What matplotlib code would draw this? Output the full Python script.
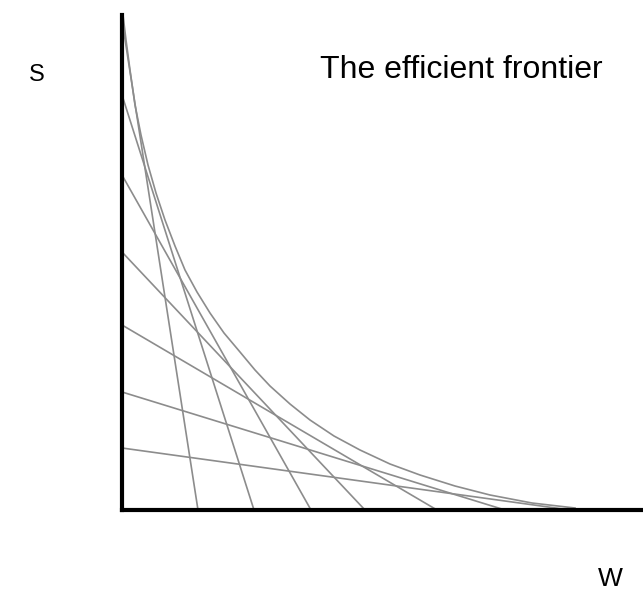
import numpy as np
import matplotlib.pyplot as plt

# intercepts of the straight lines (x on the W axis, y on the S axis)
x_intercepts = [76, 132, 189, 243, 315, 383, 448]
y_intercepts = [490, 415, 335, 258, 185, 118, 62]

# the frontier curve
curve_x = [1, 4, 8, 13, 19, 26, 34, 43, 53, 63, 75, 88, 102, 118, 133, 148,
           168, 188, 212, 238, 268, 298, 333, 368, 410, 453]
curve_y = [495, 470, 440, 405, 375, 345, 317, 290, 264, 240, 218, 197, 177,
           158, 140, 124, 106, 90, 74, 60, 46, 35, 24, 15, 7, 2]

plt.rcParams['font.family'] = ['Liberation Sans', 'DejaVu Sans']

fig = plt.figure(figsize=[6.43, 5.96], dpi=100)
ax = fig.add_axes([122 / 643, 86 / 596, 521 / 643, 495 / 596])

for xi, yi in zip(x_intercepts, y_intercepts):
    ax.plot([0, xi], [yi, 0], color='#8c8c8c', lw=1.2)

ax.plot(curve_x, curve_y, color='#8c8c8c', lw=1.2)

ax.set_xlim(0, 521)
ax.set_ylim(0, 495)
for side in ['top', 'right']:
    ax.spines[side].set_visible(False)
for side in ['left', 'bottom']:
    ax.spines[side].set_linewidth(3)
    ax.spines[side].set_color('black')
ax.set_xticks([])
ax.set_yticks([])

fig.text(37 / 643, 1 - 75 / 596, 'S', fontsize=17, ha='center', va='center')
fig.text(610 / 643, 1 - 579 / 596, 'W', fontsize=19, ha='center', va='center')
fig.text(461 / 643, 1 - 70 / 596, 'The efficient frontier', fontsize=23,
         ha='center', va='center')

plt.savefig('out.png', dpi=100)
